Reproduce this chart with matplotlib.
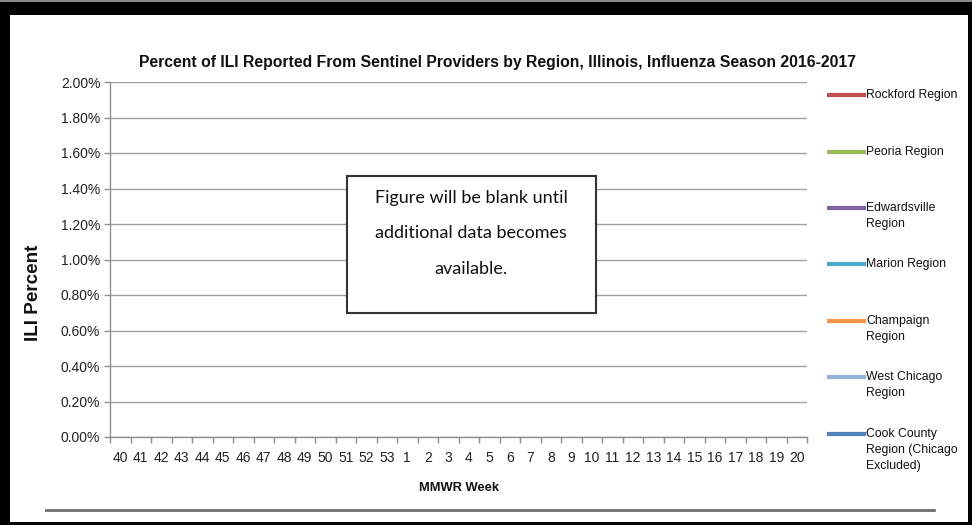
import numpy as np
import matplotlib
matplotlib.use("Agg")
import matplotlib.pyplot as plt
import matplotlib.patches as mpatches
from matplotlib.lines import Line2D

# ── data ───────────────────────────────────────────────────────────────────
weeks = [40, 41, 42, 43, 44, 45, 46, 47, 48, 49, 50, 51, 52, 53,
         1, 2, 3, 4, 5, 6, 7, 8, 9, 10, 11, 12, 13, 14, 15, 16, 17, 18, 19, 20]
regions = ["Rockford Region", "Peoria Region", "Edwardsville\nRegion",
           "Marion Region", "Champaign\nRegion", "West Chicago\nRegion",
           "Cook County\nRegion (Chicago\nExcluded)"]
region_colors = ["#c0504d", "#9bbb59", "#8064a2", "#4bacc6",
                 "#f79646", "#95b3d7", "#4f81bd"]
# no values reported yet – every series is blank
ili_values = {r: [np.nan] * len(weeks) for r in regions}
y_ticks = [0.0, 0.2, 0.4, 0.6, 0.8, 1.0, 1.2, 1.4, 1.6, 1.8, 2.0]

W, H = 972, 525
plt.rcParams["font.family"] = ["Liberation Sans", "DejaVu Sans"]

fig = plt.figure(figsize=(W / 100, H / 100), dpi=100)

def fx(px):
    return px / W

def fy(py):
    return 1 - py / H

# black frame round the page
fig.patches.append(mpatches.Rectangle((0, 0), 1, 1, transform=fig.transFigure,
                                      fc="black", ec="none", zorder=-10))
fig.patches.append(mpatches.Rectangle((0, fy(2)), 1, 2 / H, transform=fig.transFigure,
                                      fc="#8a8a8a", ec="none", zorder=-9))
fig.patches.append(mpatches.Rectangle((fx(10), fy(522)), fx(958), 507 / H,
                                      transform=fig.transFigure,
                                      fc="white", ec="none", zorder=-8))

ax = fig.add_axes([fx(110), fy(437), fx(697), 355 / H])
x = np.arange(len(weeks))
for r, c in zip(regions, region_colors):
    ax.plot(x, ili_values[r], color=c, lw=3, label=r)

ax.set_xlim(-0.5, len(weeks) - 0.5)
ax.set_ylim(0, 2.0)
ax.set_yticks(y_ticks)
ax.set_yticklabels([f"{v:.2f}%" for v in y_ticks], fontsize=10)
ax.set_xticks(x)
ax.set_xticklabels([str(w) for w in weeks], fontsize=10)
ax.set_xticks(np.arange(-0.5, len(weeks)), minor=True)
ax.tick_params(axis="x", which="major", length=0, pad=10, colors="#222222")
ax.tick_params(axis="x", which="minor", length=4, width=1, color="#909090")
ax.tick_params(axis="y", length=4, width=1, pad=3, colors="#222222")
ax.tick_params(axis="y", color="#909090")
ax.grid(axis="y", color="#a0a0a0", lw=1)
ax.set_axisbelow(True)
for s in ("top", "right"):
    ax.spines[s].set_visible(False)
for s in ("left", "bottom"):
    ax.spines[s].set_color("#909090")
    ax.spines[s].set_linewidth(1)

# titles
fig.text(fx(497), fy(63), "Percent of ILI Reported From Sentinel Providers by Region, "
         "Illinois, Influenza Season 2016-2017", ha="center", va="center",
         fontsize=11.3, fontweight="bold", color="#111111")
fig.text(fx(33), fy(293), "ILI Percent", rotation=90, ha="center", va="center",
         fontsize=13.6, fontweight="bold", color="#111111")
fig.text(fx(459), fy(488), "MMWR Week", ha="center", va="center",
         fontsize=9.3, fontweight="bold", color="#111111")

# legend drawn by hand so the swatch sits on the first text line
leg_y = [95, 152, 208, 264, 321, 377, 434]
for r, c, yy in zip(regions, region_colors, leg_y):
    fig.lines.append(Line2D([fx(829), fx(864)], [fy(yy), fy(yy)], color=c, lw=3,
                            transform=fig.transFigure))
    fig.text(fx(866), fy(yy - 6), r, ha="left", va="top", fontsize=8.8,
             color="#111111", linespacing=1.45)

# notice box
fig.patches.append(mpatches.Rectangle((fx(347), fy(313)), fx(249), 137 / H,
                                      transform=fig.transFigure, fc="white",
                                      ec="#333333", lw=1.5, zorder=5))
fig.text(fx(471), fy(233), "Figure will be blank until\nadditional data becomes\navailable.",
         ha="center", va="center", fontsize=13, family=["Lato", "DejaVu Sans"],
         color="#111111", linespacing=2.5, zorder=6)

# rule under the chart
fig.lines.append(Line2D([fx(46), fx(934)], [fy(510), fy(510)], color="#6e6e6e",
                        lw=2, transform=fig.transFigure))

fig.savefig("out.png", dpi=100)
